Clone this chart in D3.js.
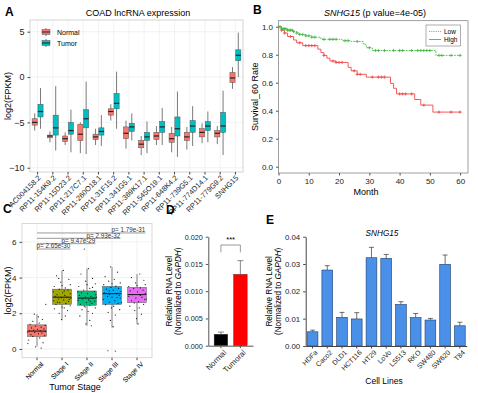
<!DOCTYPE html>
<html lang="en">
<head>
<meta charset="UTF-8">
<title>SNHG15 figure</title>
<script src="https://d3js.org/d3.v7.min.js"></script>
<style>
    body { margin: 0; background: #fff; }
    svg { font-family: "Liberation Sans", Arial, sans-serif; display: block; }
    .tick text { fill: #222; }
</style>
</head>
<body>
<script>
// ---------- Panel A data: [lowWhisker, q1, median, q3, highWhisker]
const aGenes = ["AC004158.2", "RP11-154K9.2", "RP11-15D23.2", "RP11-217C7.1", "RP11-260O18.1",
    "RP11-31F15.2", "RP11-341G5.1", "RP11-369K17.1", "RP11-545O19.1", "RP11-648K4.2",
    "RP11-739G5.1", "RP11-774D14.1", "RP11-779G9.2", "SNHG15"];
const aNormal = [
    [-5.9, -5.3, -5.0, -4.6, -4.0], [-7.2, -6.7, -6.5, -6.4, -6.0], [-7.5, -7.1, -6.8, -6.5, -6.1],
    [-8.4, -7.0, -6.3, -5.2, -5.0], [-7.5, -6.9, -6.6, -6.3, -5.7], [-4.8, -4.2, -3.8, -3.5, -3.0],
    [-7.9, -6.8, -6.2, -5.5, -4.8], [-8.6, -7.8, -7.4, -7.0, -6.5], [-7.5, -6.9, -6.5, -6.1, -5.4],
    [-8.3, -7.2, -6.8, -6.2, -5.5], [-8.0, -7.0, -6.6, -6.1, -5.5], [-7.3, -6.6, -6.1, -5.7, -5.1],
    [-7.4, -6.6, -6.2, -5.9, -5.4], [-1.3, -0.6, -0.1, 0.5, 1.1]];
const aTumor = [
    [-5.7, -4.4, -3.8, -3.0, -1.2], [-8.1, -6.4, -5.6, -4.2, -1.0], [-8.3, -6.3, -5.9, -5.0, -3.6],
    [-8.5, -5.6, -4.6, -3.6, -0.5], [-7.6, -6.4, -6.0, -5.6, -4.2], [-5.7, -3.5, -2.9, -1.8, 0.6],
    [-7.0, -6.0, -5.5, -5.1, -4.0], [-8.4, -7.0, -6.6, -6.1, -4.9], [-7.5, -6.1, -5.5, -4.9, -3.4],
    [-8.8, -6.5, -5.7, -4.4, -1.6], [-7.6, -6.1, -5.4, -4.8, -3.2], [-7.2, -5.9, -5.4, -4.9, -3.8],
    [-8.6, -6.1, -5.4, -3.9, -1.5], [0.0, 1.8, 2.4, 3.0, 4.9]];
const aTicks = [-10, -5, 0, 5];

// ---------- Panel B data (Kaplan-Meier steps)
const bLowT = [0, 1, 3, 5, 6, 7, 9, 11, 14, 21, 24, 28, 29, 31, 52];
const bLowS = [1.0, 0.985, 0.975, 0.965, 0.955, 0.945, 0.935, 0.925, 0.91, 0.9, 0.895, 0.875, 0.85, 0.83, 0.795];
const bHighT = [0, 1, 2, 3, 5, 6, 8, 13, 14, 15, 16, 17, 19, 23, 24, 26, 29, 37, 38, 39, 45, 47, 51];
const bHighS = [1.0, 0.975, 0.955, 0.93, 0.905, 0.885, 0.865, 0.84, 0.815, 0.795, 0.775, 0.755, 0.745, 0.71, 0.685, 0.66, 0.64, 0.595, 0.56, 0.52, 0.48, 0.44, 0.39];
const bLowCens = [0.5, 1, 1.5, 2, 2.5, 3, 3.5, 4, 4.5, 5, 6, 7, 8, 9, 10, 11, 12, 15, 17, 18, 19, 22, 23, 26, 30, 32, 33, 35, 38, 40, 41, 44, 46, 47, 48, 49, 50, 53, 54, 57, 60];
const bHighCens = [1, 2, 4, 7, 9, 10, 11, 12, 15, 18, 19, 20, 21, 25, 26, 27, 31, 33, 34, 35, 40, 41, 42, 44, 48, 53, 57, 60];
const bXTicks = [0, 10, 20, 30, 40, 50, 60];
const bYTicks = [0, 0.2, 0.4, 0.6, 0.8, 1.0];

// ---------- Panel C data
const cGroups = ["Normal", "Stage I", "Stage II", "Stage III", "Stage IV"];
const cBoxes = [
    [0.15, 0.7, 1.0, 1.35, 1.95], [1.6, 2.5, 2.9, 3.35, 4.4], [1.3, 2.45, 2.85, 3.25, 4.5],
    [1.2, 2.5, 3.1, 3.5, 4.6], [1.4, 2.6, 3.05, 3.45, 4.2]];
const cColors = ["#F8766D", "#A3A500", "#00BF7D", "#00B0F6", "#E76BF3"];
// jittered points: [value, horizontal offset in band units]
const cPoints = [
    [[0.12, -0.05], [0.35, 0.22], [0.5, -0.3], [0.62, 0.1], [0.7, -0.15], [0.75, 0.28], [0.8, -0.22], [0.85, 0.05],
     [0.9, 0.18], [0.92, -0.08], [0.98, 0.3], [1.0, -0.28], [1.02, 0.12], [1.05, -0.12], [1.1, 0.02], [1.12, 0.25],
     [1.18, -0.2], [1.22, 0.15], [1.28, -0.05], [1.32, 0.3], [1.38, -0.25], [1.45, 0.08], [1.55, -0.15], [1.65, 0.2],
     [1.8, 0.05], [1.95, -0.1], [2.5, 0.32], [0.3, -0.33], [0.05, 0.15], [0.95, -0.35]],
    [[4.4, 0.05], [4.1, -0.2], [3.9, 0.25], [3.75, -0.05], [3.6, 0.3], [3.5, -0.28], [3.42, 0.12], [3.35, -0.1],
     [3.3, 0.22], [3.2, -0.32], [3.15, 0.02], [3.1, 0.3], [3.05, -0.18], [3.0, 0.1], [2.95, -0.25], [2.9, 0.18],
     [2.88, -0.02], [2.85, 0.32], [2.8, -0.12], [2.75, 0.06], [2.7, -0.3], [2.66, 0.24], [2.6, -0.08], [2.55, 0.14],
     [2.5, -0.22], [2.42, 0.3], [2.35, 0.0], [2.25, -0.28], [2.15, 0.2], [2.0, -0.1], [1.85, 0.12], [1.65, -0.02],
     [3.55, 0.0], [3.25, 0.08], [2.78, 0.26], [2.62, -0.16], [3.95, -0.12], [2.3, 0.08]],
    [[5.6, -0.1], [4.5, 0.05], [4.2, -0.22], [3.95, 0.2], [3.8, -0.05], [3.65, 0.3], [3.5, -0.3], [3.4, 0.1],
     [3.3, -0.12], [3.22, 0.26], [3.15, -0.2], [3.1, 0.02], [3.05, 0.32], [3.0, -0.28], [2.95, 0.14], [2.9, -0.06],
     [2.85, 0.22], [2.8, -0.16], [2.75, 0.06], [2.72, -0.32], [2.68, 0.28], [2.6, -0.02], [2.55, 0.18], [2.5, -0.24],
     [2.45, 0.1], [2.4, -0.1], [2.3, 0.3], [2.2, -0.18], [2.1, 0.04], [2.0, 0.2], [1.85, -0.26], [1.6, 0.1],
     [1.4, -0.04], [1.3, 0.16], [3.6, 0.0], [3.2, -0.34], [2.65, 0.12], [2.35, -0.06], [2.9, 0.34], [3.45, 0.2]],
    [[4.6, -0.05], [4.3, 0.2], [4.05, -0.25], [3.9, 0.08], [3.8, -0.12], [3.7, 0.3], [3.6, -0.3], [3.52, 0.14],
     [3.45, -0.04], [3.4, 0.24], [3.35, -0.2], [3.3, 0.04], [3.22, 0.32], [3.15, -0.28], [3.1, 0.16], [3.05, -0.08],
     [3.0, 0.26], [2.95, -0.16], [2.9, 0.0], [2.85, 0.3], [2.78, -0.32], [2.7, 0.1], [2.62, -0.1], [2.55, 0.22],
     [2.48, -0.24], [2.4, 0.06], [2.3, -0.02], [2.2, 0.28], [2.05, -0.14], [1.9, 0.12], [1.6, -0.06], [1.25, 0.04],
     [-0.1, -0.15], [-0.12, 0.12], [3.65, 0.0], [2.88, 0.18], [3.25, -0.1], [2.6, 0.34]],
    [[4.2, 0.1], [4.0, -0.2], [3.85, 0.25], [3.7, -0.05], [3.6, 0.3], [3.5, -0.3], [3.42, 0.12], [3.38, -0.12],
     [3.3, 0.22], [3.25, -0.25], [3.2, 0.02], [3.12, 0.3], [3.05, -0.16], [3.0, 0.12], [2.95, -0.3], [2.9, 0.18],
     [2.85, -0.04], [2.78, 0.28], [2.7, -0.2], [2.65, 0.06], [2.58, -0.1], [2.5, 0.24], [2.4, -0.26], [2.3, 0.08],
     [2.15, -0.08], [1.95, 0.16], [1.7, -0.02], [1.4, 0.04], [3.55, 0.0], [2.8, 0.34]]];
const cPvals = ["p= 2.65e-30", "p= 9.47e-29", "p= 2.93e-32", "p= 1.79e-31"];
const cPy = [5.6, 5.9, 6.2, 6.5];
const cTicks = [0, 2, 4, 6];

// ---------- Panel D data
const dGroups = ["Normal", "Tumoral"];
const dValues = [0.0021, 0.0131];
const dErrors = [0.0004, 0.0025];
const dTicks = [0, 0.005, 0.010, 0.015, 0.020];

// ---------- Panel E data
const eLines = ["HDFa", "Caco2", "DLD1", "HCT116", "HT29", "LoVo", "LS513", "RKO", "SW480", "SW620", "T84"];
const eValues = [0.0052, 0.0278, 0.0105, 0.0099, 0.0323, 0.0321, 0.0152, 0.0104, 0.0095, 0.0299, 0.0074];
const eErrors = [0.0006, 0.0016, 0.0018, 0.0023, 0.0038, 0.0014, 0.0010, 0.0015, 0.0006, 0.0034, 0.0013];
const eTicks = [0, 0.01, 0.02, 0.03, 0.04];

const W = 478, H = 393;
const svg = d3.select("body").append("svg").attr("width", W).attr("height", H);

function panelLetter(t, x, y) {
    svg.append("text").attr("x", x).attr("y", y).attr("font-size", 12)
        .attr("font-weight", "bold").text(t);
}

// =================== Panel A ===================
(function () {
    const L = 30, R = 243, T = 20, B = 172;
    const g = svg.append("g");
    const x = d3.scaleBand().domain(aGenes).range([L, R]);
    const y = d3.scaleLinear().domain([-10.47, 6.29]).range([B, T]);

    // grid
    g.selectAll(".gx").data(aGenes).join("line")
        .attr("x1", d => x(d) + x.bandwidth() / 2).attr("x2", d => x(d) + x.bandwidth() / 2)
        .attr("y1", T).attr("y2", B).attr("stroke", "#ebebeb").attr("stroke-width", 0.6);
    g.selectAll(".gy").data(aTicks).join("line")
        .attr("x1", L).attr("x2", R).attr("y1", d => y(d)).attr("y2", d => y(d))
        .attr("stroke", "#ebebeb").attr("stroke-width", 0.6);
    g.append("rect").attr("x", L).attr("y", T).attr("width", R - L).attr("height", B - T)
        .attr("fill", "none").attr("stroke", "#c8c8c8").attr("stroke-width", 0.8);

    const bw = x.bandwidth() * 0.38;
    function drawBoxes(data, off, color) {
        data.forEach((d, i) => {
            const cx = x(aGenes[i]) + x.bandwidth() / 2 + off * bw / 2;
            g.append("line").attr("x1", cx).attr("x2", cx).attr("y1", y(d[4])).attr("y2", y(d[0]))
                .attr("stroke", "#7a7a7a").attr("stroke-width", 1);
            g.append("rect").attr("x", cx - bw / 2 + 0.3).attr("width", bw - 0.6)
                .attr("y", y(d[3])).attr("height", y(d[1]) - y(d[3]))
                .attr("fill", color).attr("stroke", "#555").attr("stroke-width", 0.5);
            g.append("line").attr("x1", cx - bw / 2 + 0.3).attr("x2", cx + bw / 2 - 0.3)
                .attr("y1", y(d[2])).attr("y2", y(d[2])).attr("stroke", "#222").attr("stroke-width", 1.2);
        });
    }
    drawBoxes(aNormal, -1, "#F8766D");
    drawBoxes(aTumor, 1, "#00BFC4");

    const ay = g.append("g").attr("transform", `translate(${L},0)`)
        .call(d3.axisLeft(y).tickValues(aTicks).tickSize(2.5).tickSizeOuter(0));
    ay.select(".domain").remove();
    ay.selectAll("line").attr("stroke", "#444");
    ay.selectAll("text").attr("font-size", 9);

    const ax = g.append("g").attr("transform", `translate(0,${B})`)
        .call(d3.axisBottom(x).tickSize(2.5).tickSizeOuter(0));
    ax.select(".domain").remove();
    ax.selectAll("line").attr("stroke", "#444");
    ax.selectAll("text").attr("font-size", 7.4).attr("text-anchor", "end")
        .attr("dy", 0).attr("y", 4).attr("x", 0)
        .attr("transform", "rotate(-45) translate(-2,3)");

    svg.append("text").attr("x", 138).attr("y", 16).attr("text-anchor", "middle")
        .attr("font-size", 9).text("COAD lncRNA expression");
    svg.append("text").attr("transform", `translate(11,${(T + B) / 2}) rotate(-90)`)
        .attr("text-anchor", "middle").attr("font-size", 9).text("log2(FPKM)");

    // legend
    const lg = svg.append("g");
    [["Normal", "#F8766D", 32], ["Tumor", "#00BFC4", 43]].forEach(([t, c, yy]) => {
        lg.append("line").attr("x1", 46).attr("x2", 46).attr("y1", yy - 4).attr("y2", yy + 4)
            .attr("stroke", "#7a7a7a");
        lg.append("rect").attr("x", 42).attr("y", yy - 2.5).attr("width", 8).attr("height", 5)
            .attr("fill", c).attr("stroke", "#555").attr("stroke-width", 0.5);
        lg.append("line").attr("x1", 42).attr("x2", 50).attr("y1", yy).attr("y2", yy)
            .attr("stroke", "#222").attr("stroke-width", 1);
        lg.append("text").attr("x", 57).attr("y", yy + 2.5).attr("font-size", 7).text(t);
    });
    panelLetter("A", 5, 16);
})();

// =================== Panel B ===================
(function () {
    const L = 278.5, R = 468, T = 20.7, B = 173;
    const g = svg.append("g");
    const x = d3.scaleLinear().domain([0, 62.6]).range([L, R]);
    const y = d3.scaleLinear().domain([-0.045, 1.043]).range([B, T]);

    g.append("rect").attr("x", L).attr("y", T).attr("width", R - L).attr("height", B - T)
        .attr("fill", "none").attr("stroke", "#777").attr("stroke-width", 0.7);

    function surv(ts, ss, t) {
        let s = ss[0];
        ts.forEach((tt, i) => { if (tt <= t) s = ss[i]; });
        return s;
    }
    const line = d3.line().x(d => x(d[0])).y(d => y(d[1])).curve(d3.curveStepAfter);
    function curve(ts, ss, color, dash) {
        const pts = ts.map((t, i) => [t, ss[i]]);
        pts.push([60.2, ss[ss.length - 1]]);
        g.append("path").attr("d", line(pts)).attr("fill", "none").attr("stroke", color)
            .attr("stroke-width", 0.9).attr("stroke-dasharray", dash);
    }
    function cens(list, ts, ss, color) {
        list.forEach(t => {
            const cx = x(t), cy = y(surv(ts, ss, t));
            g.append("path").attr("d", `M${cx - 1.6},${cy}H${cx + 1.6}M${cx},${cy - 1.6}V${cy + 1.6}`)
                .attr("stroke", color).attr("stroke-width", 0.8);
        });
    }
    curve(bHighT, bHighS, "#ef4a4a", null);
    curve(bLowT, bLowS, "#3fb53f", "1.6,1.2");
    cens(bHighCens, bHighT, bHighS, "#ef4a4a");
    cens(bLowCens, bLowT, bLowS, "#3fb53f");

    const ax = g.append("g").attr("transform", `translate(0,${B})`)
        .call(d3.axisBottom(x).tickValues(bXTicks).tickSize(2.5).tickSizeOuter(0));
    ax.select(".domain").remove();
    ax.selectAll("line").attr("stroke", "#555");
    ax.selectAll("text").attr("font-size", 8);
    const ay = g.append("g").attr("transform", `translate(${L},0)`)
        .call(d3.axisLeft(y).tickValues(bYTicks).tickFormat(d3.format(".1f")).tickSize(2.5).tickSizeOuter(0));
    ay.select(".domain").remove();
    ay.selectAll("line").attr("stroke", "#555");
    ay.selectAll("text").attr("font-size", 8);

    const tt = svg.append("text").attr("x", 375).attr("y", 16).attr("text-anchor", "middle").attr("font-size", 9);
    tt.append("tspan").attr("font-style", "italic").text("SNHG15");
    tt.append("tspan").text(" (p value=4e-05)");
    svg.append("text").attr("x", 366).attr("y", 195).attr("text-anchor", "middle").attr("font-size", 9).text("Month");
    svg.append("text").attr("transform", `translate(258,${(T + B) / 2}) rotate(-90)`)
        .attr("text-anchor", "middle").attr("font-size", 9).text("Survival_60 Rate");

    // legend
    g.append("rect").attr("x", 426).attr("y", 25).attr("width", 34.5).attr("height", 21)
        .attr("fill", "#fff").attr("stroke", "#777").attr("stroke-width", 0.6);
    g.append("line").attr("x1", 429).attr("x2", 441).attr("y1", 31.5).attr("y2", 31.5)
        .attr("stroke", "#3fb5a0").attr("stroke-width", 0.8).attr("stroke-dasharray", "1.2,1");
    g.append("line").attr("x1", 429).attr("x2", 441).attr("y1", 39.5).attr("y2", 39.5)
        .attr("stroke", "#ef4a4a").attr("stroke-width", 0.8);
    g.append("text").attr("x", 444).attr("y", 33.8).attr("font-size", 6.5).text("Low");
    g.append("text").attr("x", 444).attr("y", 41.8).attr("font-size", 6.5).text("High");
    panelLetter("B", 253, 14);
})();

// =================== Panel C ===================
(function () {
    const L = 22, R = 152, T = 223.5, B = 357.7;
    const g = svg.append("g");
    const x = d3.scaleLinear().domain([0.4, 5.6]).range([L, R]);
    const y = d3.scaleLinear().domain([-0.49, 7.03]).range([B, T]);
    const cx = i => x(i + 1);

    g.selectAll(".gy").data(cTicks).join("line")
        .attr("x1", L).attr("x2", R).attr("y1", d => y(d)).attr("y2", d => y(d))
        .attr("stroke", "#ebebeb").attr("stroke-width", 0.7);
    g.selectAll(".gx").data(cGroups).join("line")
        .attr("x1", (d, i) => cx(i)).attr("x2", (d, i) => cx(i)).attr("y1", T).attr("y2", B)
        .attr("stroke", "#ebebeb").attr("stroke-width", 0.7);
    g.append("rect").attr("x", L).attr("y", T).attr("width", R - L).attr("height", B - T)
        .attr("fill", "none").attr("stroke", "#cfcfcf").attr("stroke-width", 0.8);

    const bw = (x(1.75) - x(1));
    cBoxes.forEach((d, i) => {
        const c = cx(i);
        g.append("line").attr("x1", c).attr("x2", c).attr("y1", y(d[4])).attr("y2", y(d[0]))
            .attr("stroke", "#555").attr("stroke-width", 0.7);
        g.append("rect").attr("x", c - bw / 2).attr("width", bw)
            .attr("y", y(d[3])).attr("height", y(d[1]) - y(d[3]))
            .attr("fill", cColors[i]).attr("stroke", "#555").attr("stroke-width", 0.5);
        g.append("line").attr("x1", c - bw / 2).attr("x2", c + bw / 2)
            .attr("y1", y(d[2])).attr("y2", y(d[2])).attr("stroke", "#222").attr("stroke-width", 1.1);
    });
    cPoints.forEach((pts, i) => {
        g.selectAll(null).data(pts).join("circle")
            .attr("cx", d => x(i + 1 + d[1] * 1.1)).attr("cy", d => y(d[0]))
            .attr("r", 0.6).attr("fill", "#111");
    });

    // p-value brackets
    cPvals.forEach((p, k) => {
        const yy = y(cPy[k]);
        g.append("line").attr("x1", cx(0)).attr("x2", cx(k + 1) + bw / 2 - 1).attr("y1", yy).attr("y2", yy)
            .attr("stroke", "#555").attr("stroke-width", 0.6);
        g.append("text").attr("x", cx(k + 1) + bw / 2 - 1).attr("y", yy - 0.8).attr("text-anchor", "end")
            .attr("font-size", 6.3).attr("fill", "#333").text(p);
    });

    const ay = g.append("g").attr("transform", `translate(${L},0)`)
        .call(d3.axisLeft(y).tickValues(cTicks).tickSize(2.5).tickSizeOuter(0));
    ay.select(".domain").remove();
    ay.selectAll("line").attr("stroke", "#444");
    ay.selectAll("text").attr("font-size", 8);

    const ax = g.append("g").attr("transform", `translate(0,${B})`);
    cGroups.forEach((t, i) => {
        ax.append("line").attr("x1", cx(i)).attr("x2", cx(i)).attr("y1", 0).attr("y2", 2.5).attr("stroke", "#444");
        ax.append("text").attr("transform", `translate(${cx(i) + 3.5},${3.5}) rotate(-45)`)
            .attr("text-anchor", "end").attr("font-size", 6.8).attr("dy", "0.7em").text(t);
    });

    svg.append("text").attr("x", 75).attr("y", 390).attr("text-anchor", "middle").attr("font-size", 9).text("Tumor Stage");
    svg.append("text").attr("transform", `translate(6,${(T + B) / 2}) rotate(-90)`)
        .attr("text-anchor", "middle").attr("font-size", 9).attr("dy", "0.5em").text("log2(FPKM)");
    panelLetter("C", 3, 213);
})();

// =================== Panel D ===================
(function () {
    const L = 208.3, R = 253, T = 236.7, B = 345.7;
    const g = svg.append("g");
    const x = d3.scaleBand().domain(dGroups).range([L, R]).padding(0.3);
    const y = d3.scaleLinear().domain([0, 0.02]).range([B, T]);
    const colors = ["#000", "#ff0000"];

    dGroups.forEach((d, i) => {
        const c = x(d) + x.bandwidth() / 2;
        g.append("line").attr("x1", c).attr("x2", c).attr("y1", y(dValues[i])).attr("y2", y(dValues[i] + dErrors[i]))
            .attr("stroke", "#555").attr("stroke-width", 0.7);
        g.append("line").attr("x1", c - 3).attr("x2", c + 3).attr("y1", y(dValues[i] + dErrors[i]))
            .attr("y2", y(dValues[i] + dErrors[i])).attr("stroke", "#555").attr("stroke-width", 0.7);
        g.append("rect").attr("x", x(d)).attr("width", x.bandwidth()).attr("y", y(dValues[i]))
            .attr("height", B - y(dValues[i])).attr("fill", colors[i]).attr("stroke", "#333").attr("stroke-width", 0.4);
    });

    const ay = g.append("g").attr("transform", `translate(${L},0)`)
        .call(d3.axisLeft(y).tickValues(dTicks).tickFormat(d3.format(".3f")).tickSize(2.5).tickSizeOuter(0));
    ay.select(".domain").attr("stroke", "#555");
    ay.selectAll("line").attr("stroke", "#555");
    ay.selectAll("text").attr("font-size", 7.2);
    const ax = g.append("g").attr("transform", `translate(0,${B})`)
        .call(d3.axisBottom(x).tickSize(2.5).tickSizeOuter(0));
    ax.select(".domain").attr("stroke", "#555");
    ax.selectAll("line").attr("stroke", "#555");
    ax.selectAll("text").attr("font-size", 7.8).attr("text-anchor", "end").attr("y", 3).attr("dy", "0.7em")
        .attr("transform", "rotate(-45) translate(-1,1)");

    // significance bracket
    const x1 = x("Normal") + x.bandwidth() / 2, x2 = x("Tumoral") + x.bandwidth() / 2;
    g.append("path").attr("d", `M${x1},${252.3}V${245}H${x2}V${252.3}`)
        .attr("fill", "none").attr("stroke", "#555").attr("stroke-width", 0.6);
    g.append("text").attr("x", (x1 + x2) / 2).attr("y", 241.5).attr("text-anchor", "middle")
        .attr("font-size", 7.5).text("***");

    const yl = svg.append("text").attr("transform", `translate(176,${(T + B) / 2}) rotate(-90)`)
        .attr("text-anchor", "middle").attr("font-size", 8.2);
    yl.append("tspan").attr("x", 0).attr("dy", -4).text("Relative RNA Level");
    const t2 = yl.append("tspan").attr("x", 0).attr("dy", 8.5);
    t2.append("tspan").text("(Normalized to ");
    t2.append("tspan").attr("font-style", "italic").text("GAPDH");
    t2.append("tspan").text(")");
    panelLetter("D", 166, 214);
})();

// =================== Panel E ===================
(function () {
    const L = 305.7, R = 466.7, T = 236.7, B = 346;
    const g = svg.append("g");
    const x = d3.scaleBand().domain(eLines).range([L, R]).paddingInner(0.27).paddingOuter(0.1);
    const y = d3.scaleLinear().domain([0, 0.04]).range([B, T]);

    eLines.forEach((d, i) => {
        const c = x(d) + x.bandwidth() / 2;
        const top = y(eValues[i] + eErrors[i]);
        g.append("line").attr("x1", c).attr("x2", c).attr("y1", y(eValues[i])).attr("y2", top)
            .attr("stroke", "#333").attr("stroke-width", 0.7);
        g.append("line").attr("x1", c - 2.5).attr("x2", c + 2.5).attr("y1", top).attr("y2", top)
            .attr("stroke", "#333").attr("stroke-width", 0.7);
        g.append("rect").attr("x", x(d)).attr("width", x.bandwidth()).attr("y", y(eValues[i]))
            .attr("height", B - y(eValues[i])).attr("fill", "#4a90e8").attr("stroke", "#1d3f6e").attr("stroke-width", 0.6);
    });

    const ay = g.append("g").attr("transform", `translate(${L},0)`)
        .call(d3.axisLeft(y).tickValues(eTicks).tickFormat(d3.format(".2f")).tickSize(2.5).tickSizeOuter(0));
    ay.select(".domain").attr("stroke", "#444");
    ay.selectAll("line").attr("stroke", "#444");
    ay.selectAll("text").attr("font-size", 7.8);
    const ax = g.append("g").attr("transform", `translate(0,${B})`)
        .call(d3.axisBottom(x).tickSize(2.5).tickSizeOuter(0));
    ax.select(".domain").attr("stroke", "#444");
    ax.selectAll("line").attr("stroke", "#444");
    ax.selectAll("text").attr("font-size", 7).attr("text-anchor", "end").attr("y", 3).attr("dy", "0.7em")
        .attr("transform", "rotate(-45) translate(-1,1)");

    svg.append("text").attr("x", 382).attr("y", 236).attr("text-anchor", "middle")
        .attr("font-size", 8.2).attr("font-style", "italic").text("SNHG15");
    svg.append("text").attr("x", 384).attr("y", 384).attr("text-anchor", "middle").attr("font-size", 8.5).text("Cell Lines");
    const yl = svg.append("text").attr("transform", `translate(276,${(T + B) / 2}) rotate(-90)`)
        .attr("text-anchor", "middle").attr("font-size", 8.2);
    yl.append("tspan").attr("x", 0).attr("dy", -4).text("Relative RNA Level");
    const t2 = yl.append("tspan").attr("x", 0).attr("dy", 8.5);
    t2.append("tspan").text("(Normalized to ");
    t2.append("tspan").attr("font-style", "italic").text("GAPDH");
    t2.append("tspan").text(")");
    panelLetter("E", 266, 224);
})();
</script>
</body>
</html>
